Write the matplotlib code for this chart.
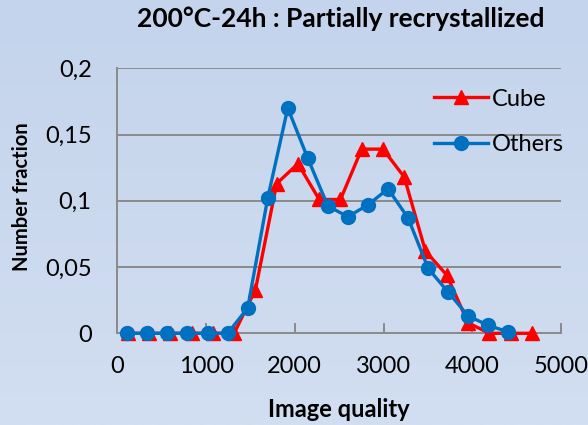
import numpy as np
import matplotlib
matplotlib.use("Agg")
import matplotlib.pyplot as plt

plt.rcParams["font.family"] = ["Lato", "DejaVu Sans"]

TITLE = "200°C-24h : Partially recrystallized"
X_LABEL = "Image quality"
Y_LABEL = "Number fraction"

cube_x = [120, 359, 599, 838, 1078, 1317, 1557, 1796, 2036, 2275,
          2515, 2754, 2994, 3233, 3473, 3712, 3952, 4191, 4431, 4670]
cube_y = [0, 0, 0, 0, 0, 0, 0.033, 0.113, 0.128, 0.101,
          0.101, 0.139, 0.139, 0.118, 0.062, 0.044, 0.008, 0, 0, 0]

others_x = [113, 339, 565, 791, 1017, 1243, 1469, 1695, 1921, 2147,
            2373, 2599, 2825, 3051, 3277, 3503, 3729, 3955, 4181, 4407]
others_y = [0, 0, 0, 0, 0, 0, 0.019, 0.102, 0.170, 0.132,
            0.096, 0.088, 0.097, 0.109, 0.087, 0.049, 0.031, 0.013, 0.006, 0.001]

x_ticks = [0, 1000, 2000, 3000, 4000, 5000]
y_ticks = [0, 0.05, 0.1, 0.15, 0.2]
y_tick_labels = ["0", "0,05", "0,1", "0,15", "0,2"]

W, H = 588, 425
fig = plt.figure(figsize=(W / 100, H / 100), dpi=100)

# light blue gradient background
bg = fig.add_axes([0, 0, 1, 1], zorder=-10)
grad = np.linspace(0, 1, 256).reshape(-1, 1)
cmap = matplotlib.colors.LinearSegmentedColormap.from_list("bg", ["#C4D4EC", "#D2DEF1"])
bg.imshow(grad, aspect="auto", cmap=cmap, extent=[0, 1, 0, 1])
bg.axis("off")

ax = fig.add_axes([117.3 / W, 1 - 333.3 / H, (561 - 117.3) / W, (333.3 - 68.3) / H])
ax.set_facecolor("none")

ax.plot(cube_x, cube_y, color="#FF0000", lw=2.4, marker="^", ms=10.5,
        label="Cube", clip_on=False, zorder=3)
ax.plot(others_x, others_y, color="#0070C0", lw=2.4, marker="o", ms=10,
        label="Others", clip_on=False, zorder=4)

ax.set_xlim(0, 5000)
ax.set_ylim(0, 0.2)
ax.set_xticks(x_ticks)
ax.set_yticks(y_ticks)
ax.set_yticklabels(y_tick_labels)

grid_col = "#8A8A8A"
ax.grid(axis="y", color=grid_col, lw=1.4)
ax.set_axisbelow(True)
for side in ["top", "right"]:
    ax.spines[side].set_visible(False)
for side in ["left", "bottom"]:
    ax.spines[side].set_color(grid_col)
    ax.spines[side].set_linewidth(1.4)

ax.tick_params(axis="x", direction="in", length=7, width=1.4, color=grid_col,
               labelsize=17, pad=16)
ax.tick_params(axis="y", length=0, labelsize=17, pad=18.5)

fig.text(340.5 / W, 1 - 27 / H, TITLE, fontsize=19, fontweight="bold",
         ha="center", va="baseline")
fig.text(339 / W, 1 - 416.7 / H, X_LABEL, fontsize=17, fontweight="bold",
         ha="center", va="baseline")
fig.text(22.5 / W, 1 - 196.5 / H, Y_LABEL, fontsize=14.5, fontweight="bold",
         ha="center", va="center", rotation=90)

ax.legend(loc="center left", bbox_to_anchor=(434 / W, 1 - 122 / H),
          bbox_transform=fig.transFigure, frameon=False,
          fontsize=17, handlelength=2.3, handletextpad=0.15, labelspacing=1.05,
          borderaxespad=0, borderpad=0)

fig.savefig("out.png", dpi=100)
